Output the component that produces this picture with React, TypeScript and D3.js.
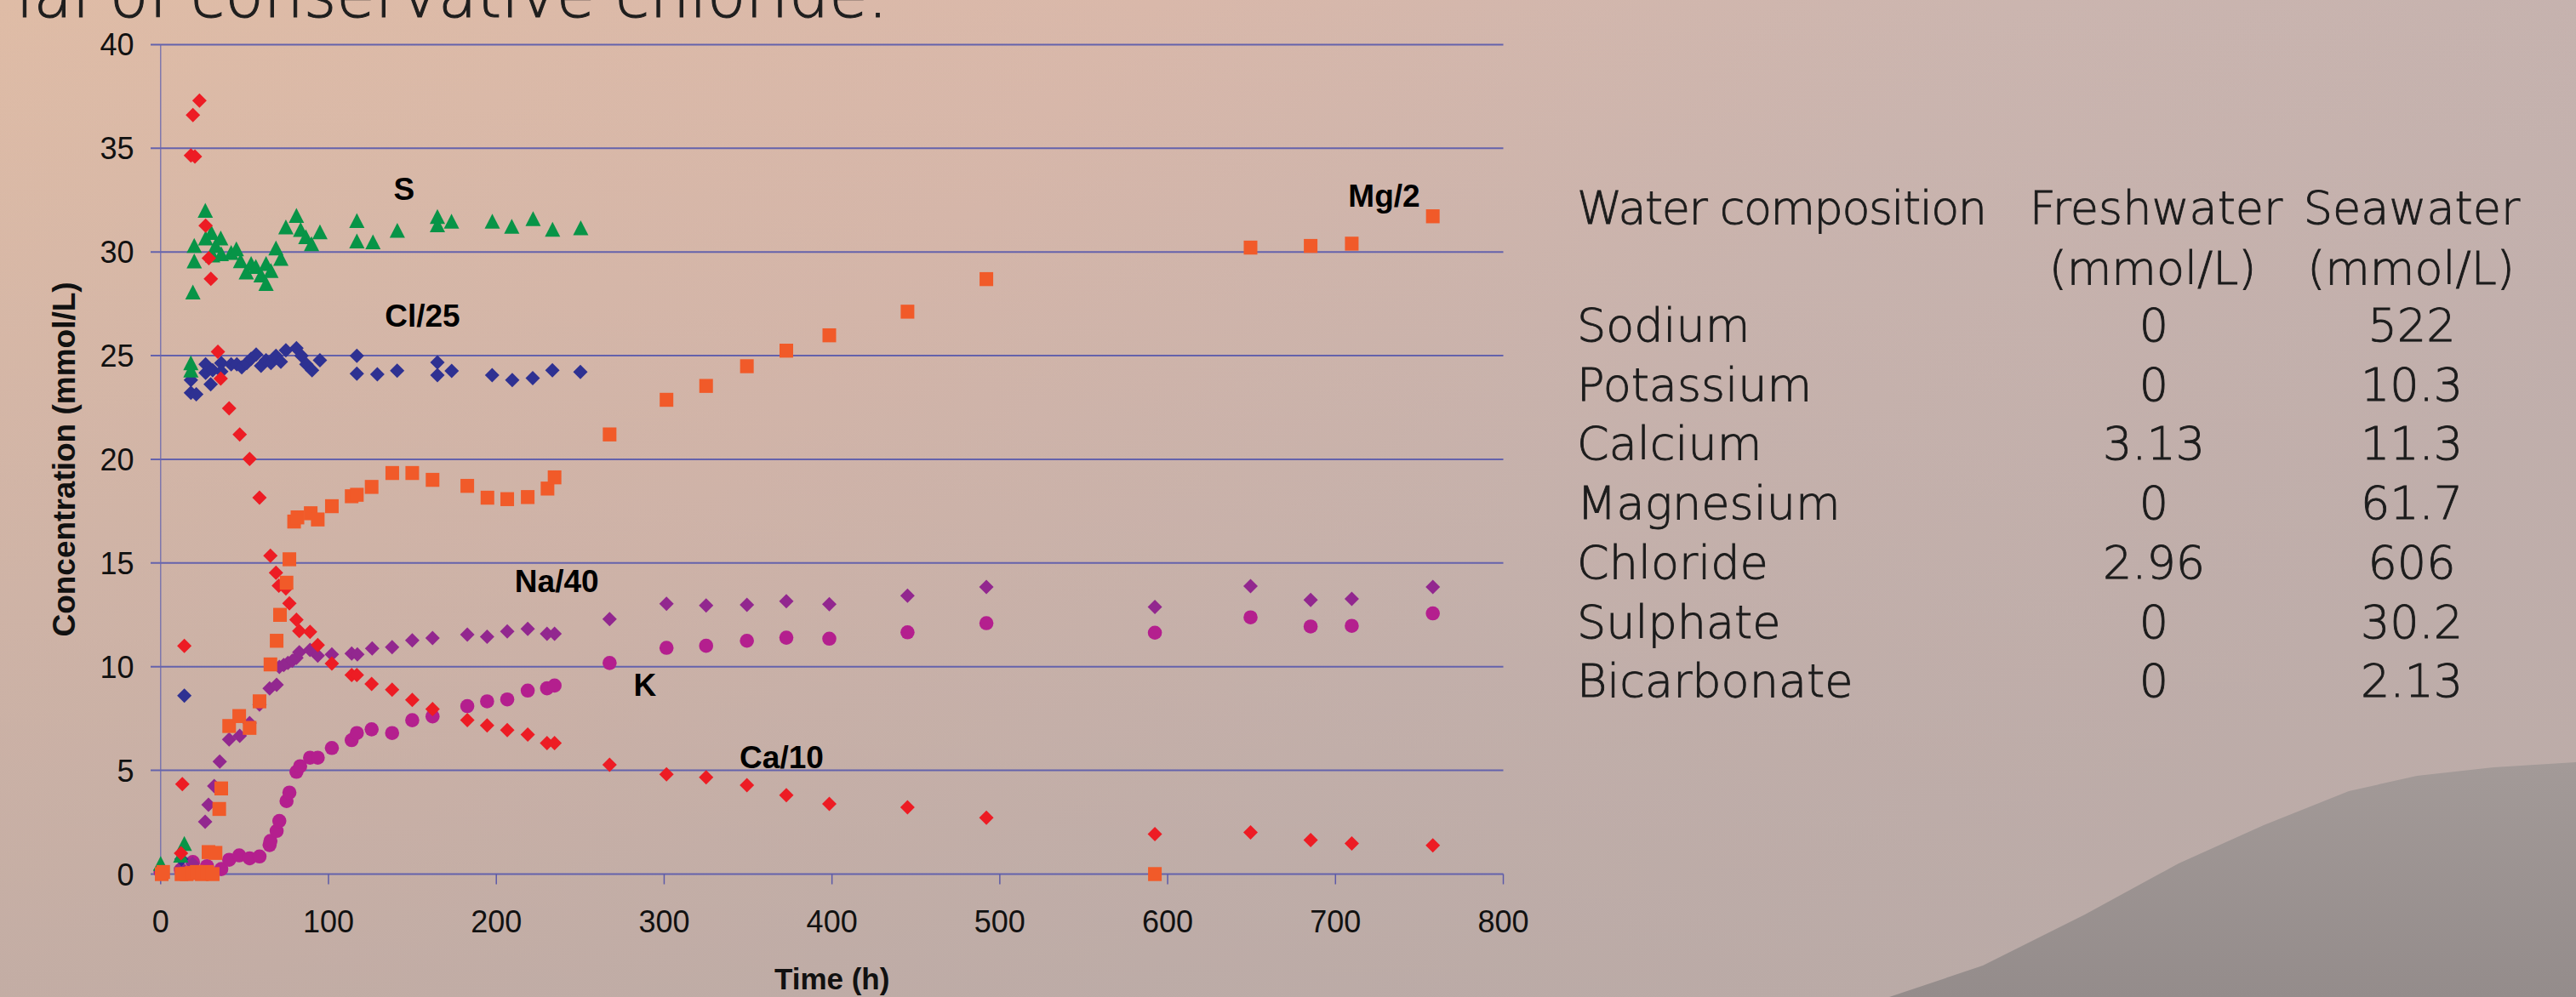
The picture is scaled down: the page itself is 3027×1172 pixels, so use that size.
import * as d3 from "d3";
import React from "react";

// sample times / values, [time h, concentration]
const caData: [number, number][] = [
  [1, 0.1], [12.1, 1.0], [12.9, 4.34], [14.1, 11.0], [18, 34.65], [20.4, 34.6], [19.2, 36.6], [23.1, 37.3],
  [26.8, 31.27], [28.7, 29.7], [29.9, 28.7], [34.1, 25.19], [35.8, 23.89], [40.8, 22.46], [47.1, 21.2],
  [53, 20.02], [58.9, 18.15], [65.4, 15.35], [68.7, 14.53], [70.4, 13.91], [74.6, 13.77], [76.7, 13.05],
  [80.9, 12.27], [82.6, 11.72], [89, 11.68], [93.6, 11.04], [102, 10.15], [113.8, 9.6], [116.9, 9.6],
  [125.7, 9.17], [137.9, 8.89], [149.9, 8.4], [162, 7.96], [182.7, 7.42], [194.5, 7.17], [206.5, 6.94],
  [218.7, 6.73], [230.2, 6.32], [234.7, 6.32], [267.5, 5.27], [301.4, 4.81], [325, 4.67], [349.3, 4.29],
  [372.8, 3.8], [398.4, 3.38], [445, 3.22], [492, 2.72], [592.4, 1.93], [649.4, 2.01], [685.2, 1.64],
  [709.7, 1.48], [758, 1.38],
];

const clData: [number, number][] = [
  [0, 0.2], [12.4, 0.72], [14.1, 8.6], [18, 23.82], [18, 23.21], [21.2, 23.14], [26.8, 24.58], [26.8, 24.17],
  [29.8, 23.62], [31, 24.3], [36.1, 24.64], [36.1, 24.23], [42, 24.58], [45.4, 24.58], [48.3, 24.44],
  [51.3, 24.64], [53.9, 24.85], [56.9, 25.05], [59.8, 24.51], [62.8, 24.78], [65.7, 24.64], [68.7, 24.99],
  [71.6, 24.71], [74.6, 25.26], [80.9, 25.36], [83.9, 24.99], [86.8, 24.58], [90.2, 24.3], [94.9, 24.78],
  [116.9, 24.99], [116.9, 24.13], [129.1, 24.1], [140.9, 24.27], [164.9, 24.67], [164.9, 24.06],
  [173.4, 24.26], [197.5, 24.06], [209.5, 23.82], [221.7, 23.92], [233.4, 24.29], [250.1, 24.21],
];

const sData: [number, number][] = [
  [0, 0.5], [12, 0.9], [14.1, 1.47], [18, 24.64], [18, 24.3], [19.2, 28.06], [20, 30.3], [20, 29.56],
  [26.6, 32.0], [26.8, 30.66], [30.2, 30.93], [31, 29.84], [32.7, 30.3], [35.8, 30.66], [36.1, 29.9],
  [42, 29.97], [45.1, 30.14], [47.6, 29.57], [51, 29.02], [53.9, 29.43], [56.7, 29.29], [59.8, 28.88],
  [62.8, 28.47], [62.8, 29.43], [65.7, 29.09], [68.7, 30.18], [71.6, 29.68], [74.6, 31.2], [80.9, 31.75],
  [83.4, 31.07], [86.5, 30.73], [89.9, 30.39], [94.9, 30.96], [116.9, 31.5], [116.9, 30.52], [126.5, 30.48],
  [141, 31.03], [164.9, 31.7], [164.9, 31.3], [173.3, 31.47], [197.6, 31.47], [209.2, 31.23], [221.9, 31.6],
  [233.5, 31.08], [250.3, 31.16],
];

const mgData: [number, number][] = [
  [0.6, 0], [1.5, 0.1], [12.4, 0], [15.5, 0], [18.5, 0.05], [21.5, 0.1], [24.5, 0], [27.6, 0.1], [31, 0],
  [28.5, 1.06], [32.7, 1.02], [34.9, 3.14], [36.1, 4.13], [40.8, 7.14], [46.8, 7.62], [53, 7.05],
  [58.9, 8.33], [65.4, 10.11], [69.1, 11.25], [71.1, 12.5], [75, 14.05], [76.7, 15.18], [79.5, 17.0],
  [81.5, 17.2], [89.4, 17.4], [93.6, 17.1], [102, 17.74], [113.8, 18.22], [116.9, 18.29], [125.7, 18.67],
  [138, 19.34], [149.9, 19.34], [162, 19.01], [182.7, 18.72], [194.7, 18.15], [206.5, 18.08], [218.7, 18.18],
  [230.5, 18.59], [234.7, 19.13], [267.5, 21.2], [301.4, 22.87], [325, 23.54], [349.3, 24.49], [372.8, 25.24],
  [398.4, 25.98], [445, 27.12], [492, 28.69], [592.4, 0], [649.4, 30.21], [685.2, 30.29], [709.7, 30.4],
  [758, 31.72],
];

const naData: [number, number][] = [
  [0, 0.1], [12, 0.3], [19, 0.5], [26.5, 2.52], [28.5, 3.34], [31.9, 4.25], [35.2, 5.43], [40.8, 6.49],
  [47.1, 6.67], [53, 7.28], [58.9, 8.17], [64.9, 8.95], [69.1, 9.13], [70.7, 9.99], [73.3, 10.08],
  [75.8, 10.18], [78.4, 10.29], [80.9, 10.43], [82.6, 10.7], [89, 10.81], [93.6, 10.53], [102, 10.59],
  [113.8, 10.63], [117.2, 10.59], [126, 10.88], [137.9, 10.94], [149.9, 11.27], [162, 11.38], [182.7, 11.55],
  [194.5, 11.45], [206.5, 11.7], [218.7, 11.82], [230.2, 11.59], [234.7, 11.59], [267.5, 12.3], [301.4, 13.03],
  [325, 12.95], [349.3, 12.98], [372.8, 13.16], [398.4, 13.01], [445, 13.42], [492, 13.84], [592.4, 12.88],
  [649.4, 13.89], [685.2, 13.22], [709.7, 13.27], [758, 13.84],
];

const kData: [number, number][] = [
  [0, 0.1], [12, 0.2], [19.2, 0.58], [27.6, 0.38], [36.1, 0.24], [40.8, 0.69], [46.8, 0.9], [53, 0.76],
  [58.9, 0.85], [64.9, 1.4], [65.4, 1.6], [69.1, 2.08], [70.7, 2.56], [75, 3.52], [76.7, 3.93], [80.9, 4.93],
  [83.1, 5.2], [89, 5.61], [93.6, 5.61], [102, 6.08], [113.8, 6.46], [116.9, 6.8], [125.7, 6.98], [137.9, 6.8],
  [149.9, 7.42], [162, 7.6], [182.7, 8.1], [194.5, 8.33], [206.5, 8.42], [218.7, 8.85], [230.2, 8.96],
  [234.7, 9.09], [267.5, 10.18], [301.4, 10.91], [325, 11.01], [349.3, 11.25], [372.8, 11.4], [398.4, 11.35],
  [445, 11.66], [492, 12.1], [592.4, 11.64], [649.4, 12.38], [685.2, 11.94], [709.7, 11.97], [758, 12.57],
];

// series labels placed in data space
const seriesLabels: { text: string; t: number; v: number }[] = [
  { text: "S", t: 145, v: 32.5 },
  { text: "Cl/25", t: 156, v: 26.4 },
  { text: "Mg/2", t: 729, v: 32.2 },
  { text: "Na/40", t: 236, v: 13.6 },
  { text: "K", t: 288.5, v: 8.6 },
  { text: "Ca/10", t: 370, v: 5.1 },
];

const xTicks = [0, 100, 200, 300, 400, 500, 600, 700, 800];
const yTicks = [0, 5, 10, 15, 20, 25, 30, 35, 40];

const tableHeader = ["Water composition", "Freshwater", "Seawater"];
const tableUnits = ["(mmol/L)", "(mmol/L)"];
const ions = ["Sodium", "Potassium", "Calcium", "Magnesium", "Chloride", "Sulphate", "Bicarbonate"];
const freshwater = ["0", "0", "3.13", "0", "2.96", "0", "0"];
const seawater = ["522", "10.3", "11.3", "61.7", "606", "30.2", "2.13"];

const W = 3027;
const H = 1172;
const margin = { left: 188.8, right: 1766.5, top: 52.4, bottom: 1027.5 };

export default function App() {
  const x = d3.scaleLinear().domain([0, 800]).range([margin.left, margin.right]);
  const y = d3.scaleLinear().domain([0, 40]).range([margin.bottom, margin.top]);

  const diamond = (d: [number, number], r = 8.5) => {
    const cx = x(d[0]), cy = y(d[1]);
    return `M${cx},${cy - r}L${cx + r},${cy}L${cx},${cy + r}L${cx - r},${cy}Z`;
  };
  const triangle = (d: [number, number]) => {
    const cx = x(d[0]), cy = y(d[1]);
    return `M${cx},${cy - 9}L${cx + 9},${cy + 8.5}L${cx - 9},${cy + 8.5}Z`;
  };

  const tableFont = "'DejaVu Sans', sans-serif";
  const col1 = 1853, col2 = 2531, col3 = 2834;
  const rowY = d3.range(ions.length).map(i => 401 + i * 69.7);
  const sans = "'Liberation Sans', Arial, sans-serif";

  return (
    <svg width={W} height={H} style={{ position: "fixed", left: 0, top: 0 }}>
      <defs>
        <linearGradient id="bg" x1="0" y1="0" x2="1" y2="0.35">
          <stop offset="0" stopColor="#dfbca6" />
          <stop offset="0.4" stopColor="#d9b8aa" />
          <stop offset="0.7" stopColor="#cbb5af" />
          <stop offset="1" stopColor="#c3b1ae" />
        </linearGradient>
        <linearGradient id="shade" x1="0" y1="0" x2="0" y2="1">
          <stop offset="0" stopColor="#bca9a4" stopOpacity="0" />
          <stop offset="1" stopColor="#b3a5a1" stopOpacity="0.6" />
        </linearGradient>
        <linearGradient id="hill" x1="0" y1="0" x2="0" y2="1">
          <stop offset="0" stopColor="#a39a98" />
          <stop offset="1" stopColor="#948c8b" />
        </linearGradient>
      </defs>
      <rect width={W} height={H} fill="url(#bg)" />
      <rect width={W} height={H} fill="url(#shade)" />
      <path d="M2220,1172 L2330,1135 L2450,1075 L2560,1015 L2660,970 L2760,930 L2840,912 L2930,902 L3027,896 L3027,1172 Z" fill="url(#hill)" />

      <text x={19} y={20} fontFamily={tableFont} fontWeight={300} fontSize={74} fill="#1e1e1e" stroke="#1e1e1e" strokeWidth={1}>ial of conservative chloride.</text>

      {/* grid */}
      {yTicks.map(t => (
        <line key={"g" + t} x1={177} x2={margin.right} y1={y(t)} y2={y(t)} stroke="#6462ac" strokeWidth={2} />
      ))}
      <line x1={margin.left} x2={margin.left} y1={margin.top} y2={margin.bottom} stroke="#6a68b0" strokeWidth={1.2} />
      {xTicks.map(t => (
        <line key={"xt" + t} x1={x(t)} x2={x(t)} y1={margin.bottom} y2={margin.bottom + 12} stroke="#5c5aa8" strokeWidth={1.5} />
      ))}

      {/* tick labels */}
      {yTicks.map(t => (
        <text key={"yl" + t} x={157.5} y={y(t) + 13} textAnchor="end" fontFamily={sans} fontSize={36} fill="#111">{t}</text>
      ))}
      {xTicks.map(t => (
        <text key={"xl" + t} x={x(t)} y={1095.5} textAnchor="middle" fontFamily={sans} fontSize={36} fill="#111">{t}</text>
      ))}
      <text x={(margin.left + margin.right) / 2} y={1163} textAnchor="middle" fontFamily={sans} fontWeight="bold" fontSize={35} fill="#111">Time (h)</text>
      <text transform={`translate(88,${(margin.top + margin.bottom) / 2}) rotate(-90)`} textAnchor="middle" fontFamily={sans} fontWeight="bold" fontSize={37} fill="#111">Concentration (mmol/L)</text>

      {/* points */}
      {kData.map((d, i) => <circle key={"k" + i} cx={x(d[0])} cy={y(d[1])} r={8.3} fill="#b41f8e" />)}
      {naData.map((d, i) => <path key={"na" + i} d={diamond(d)} fill="#92278f" />)}
      {clData.map((d, i) => <path key={"cl" + i} d={diamond(d)} fill="#2e3192" />)}
      {sData.map((d, i) => <path key={"s" + i} d={triangle(d)} fill="#079447" />)}
      {caData.map((d, i) => <path key={"ca" + i} d={diamond(d)} fill="#ed1c24" />)}
      {mgData.map((d, i) => <rect key={"mg" + i} x={x(d[0]) - 8} y={y(d[1]) - 8.2} width={16} height={16.4} fill="#f15a29" />)}

      {seriesLabels.map(l => (
        <text key={l.text} x={x(l.t)} y={y(l.v)} textAnchor="middle" fontFamily={sans} fontWeight="bold" fontSize={37} fill="#000">{l.text}</text>
      ))}

      {/* water composition table */}
      <g fontFamily={tableFont} fontWeight={300} fontSize={54} fill="#1c1c1c" stroke="#1c1c1c" strokeWidth={0.9}>
        <text x={col1} y={262.6} letterSpacing={-1.5}>{tableHeader[0]}</text>
        <text x={2533.5} y={262.6} textAnchor="middle">{tableHeader[1]}</text>
        <text x={col3} y={262.6} textAnchor="middle">{tableHeader[2]}</text>
        <text x={2529.5} y={334} textAnchor="middle">{tableUnits[0]}</text>
        <text x={2833} y={334} textAnchor="middle">{tableUnits[1]}</text>
        {ions.map((name, i) => (
          <g key={name}>
            <text x={col1} y={rowY[i]}>{name}</text>
            <text x={col2} y={rowY[i]} textAnchor="middle">{freshwater[i]}</text>
            <text x={col3} y={rowY[i]} textAnchor="middle">{seawater[i]}</text>
          </g>
        ))}
      </g>
    </svg>
  );
}
